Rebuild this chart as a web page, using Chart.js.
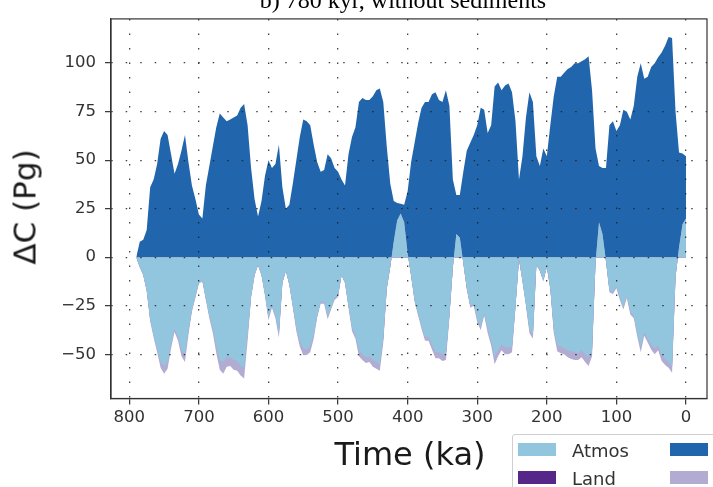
<!DOCTYPE html>
<html>
<head>
<meta charset="utf-8">
<script src="https://cdn.jsdelivr.net/npm/chart.js@4.4.1/dist/chart.umd.min.js"></script>
<style>
html,body{margin:0;padding:0;background:#fff;width:713px;height:487px;overflow:hidden;}
#wrap{position:relative;width:713px;height:487px;overflow:hidden;}
canvas{position:absolute;left:0;top:0;}
.txt{position:absolute;white-space:nowrap;font-family:'DejaVu Sans',sans-serif;color:#1a1a1a;}
#title{font-family:'Liberation Serif',serif;font-size:24px;line-height:24px;left:403px;top:-12px;transform:translateX(-50%);color:#000;}
#ylab{font-size:31px;line-height:31px;left:25px;top:207px;transform:translate(-50%,-50%) rotate(-90deg);}
#xlab{font-size:32px;line-height:32px;left:410px;top:438px;transform:translateX(-50%);}
#legend{position:absolute;left:512px;top:434px;width:270px;height:80px;border:1px solid #cfcfcf;border-radius:3px;background:rgba(255,255,255,0.85);}
.patch{position:absolute;width:38px;height:13px;}
.ltxt{position:absolute;font-family:'DejaVu Sans',sans-serif;font-size:18px;line-height:18px;color:#333;white-space:nowrap;}
</style>
</head>
<body>
<div id="wrap">
<canvas id="c" width="713" height="487"></canvas>
<div id="title" class="txt">b) 780 kyr, without sediments</div>
<div id="ylab" class="txt">ΔC (Pg)</div>
<div id="xlab" class="txt">Time (ka)</div>
<div id="legend"></div>
</div>
<script>
// time (ka before present)
const time = [
790,785,780,775,770,765,760,755,750,745,
740,735,730,725,720,715,710,705,700,695,
690,685,680,675,670,665,660,655,650,645,
640,635,630,625,620,615,610,605,600,595,
590,585,580,575,570,565,560,555,550,545,
540,535,530,525,520,515,510,505,500,495,
490,485,480,475,470,465,460,455,450,445,
440,435,430,425,420,415,410,405,400,395,
390,385,380,375,370,365,360,355,350,345,
340,335,330,325,320,315,310,305,300,295,
290,285,280,275,270,265,260,255,250,245,
240,235,230,225,220,215,210,205,200,195,
190,185,180,175,170,165,160,155,150,145,
140,135,130,125,120,115,110,105,100,95,
90,85,80,75,70,65,60,55,50,45,
40,35,30,25,20,15,10,5,0];

// Atmos change (Pg C)
const atmos = [
0,-5,-9,-17,-32,-40,-47,-54,-56,-54,
-45,-37,-41,-48,-50,-38,-27,-20,-13,-12,
-21,-30,-37,-46,-53,-54,-51.5,-51.5,-53,-53.5,
-56,-57,-40,-20,-9,-4,-9,-19,-31,-25,
-30,-39.5,-13,-7,-14,-25,-36,-43,-47,-47.4,
-46,-40,-30,-23,-23,-30,-26,-21,-19.5,-9.3,
-13,-25,-36,-40,-48,-50,-51.5,-51,-53,-54,
-55,-42,-16,-5,8,19,22.5,18,2,-9.5,
-22,-29,-35.5,-41,-41,-45,-49,-49,-50,-50,
-30,-5,12,10,-3,-16,-25,-24,-32,-36,
-29,-37,-43,-51.6,-48,-45,-46.5,-46.5,-46,-25,
-1,-12,-24,-37,-40,-4,-7,-12,-5,-16,
-37,-45.5,-46,-47,-48,-48.5,-49,-49.5,-48,-50,
-51.5,-48,-3,18,12,-2,-17,-18,-15,-21,
-25.5,-20,-28,-30,-39,-46,-38.5,-42,-45,-47,
-45.5,-50.5,-52.5,-54,-56,-10,5,17,20];

// Land change (Pg C) - not visible in the picture
const land = [
0,0,0,0,0,0,0,0,0,0, 0,0,0,0,0,0,0,0,0,0,
0,0,0,0,0,0,0,0,0,0, 0,0,0,0,0,0,0,0,0,0,
0,0,0,0,0,0,0,0,0,0, 0,0,0,0,0,0,0,0,0,0,
0,0,0,0,0,0,0,0,0,0, 0,0,0,0,0,0,0,0,0,0,
0,0,0,0,0,0,0,0,0,0, 0,0,0,0,0,0,0,0,0,0,
0,0,0,0,0,0,0,0,0,0, 0,0,0,0,0,0,0,0,0,0,
0,0,0,0,0,0,0,0,0,0, 0,0,0,0,0,0,0,0,0,0,
0,0,0,0,0,0,0,0,0,0, 0,0,0,0,0,0,0,0,0];

// Ocean change (Pg C)
const ocean = [
0,8,9,14,36,40,48,61,65,63,
53,43,48,55,63,49,37,30,22,20,
37,47,57,67,74,72,70,71,72,73,
77,79,68,46,30,21,29,42,50,46,
48,58,36,25,27,38,50,62,71,70,
68,58,49,44,45,53,51,46,44,40,
37,53,62,67,80,82,81,81,83,86,
87,80,57,38,29,28,27.5,27,34,49,
59,69,77,80,80,84,85,81,80,86,
78,40,32,32,44,55,59,63,68,77,
76,64,68,88,90,86,88.5,89.5,85,70,
40,52,72,85,80,52,47,56,52,68,
83,93,93,95,97,98,100,100,101,102,
103.5,86,56,47,46,46,68,70,65,68,
76,75,71,78,93,100,92,93,98,100,
103,105.5,109,113.5,113,75,54,53.5,52];

// fourth component (light purple, stacked below Atmos)
const weath = [
0,0,0,-0.5,-1,-1.5,-2,-3,-4,-3.5,
-2,-1.5,-2,-3,-4,-2,-1,-1,-0.5,-0.5,
-1,-1.5,-2,-3.5,-5,-6,-5,-4.5,-5,-5,
-5,-5.5,-3,-1,-0.5,0,-0.5,-1,-1.5,-1,
-1.5,-2,-0.5,0,-0.5,-1,-2,-3,-3.5,-3,
-3,-2,-1,-1,-1,-2,-1,-1,-1,0,
-0.5,-1,-2,-2,-3,-3,-3,-3,-3.5,-3.5,
-3.5,-2,-0.5,0,0,0,0,0,0,0,
-1,-1,-1.5,-2,-2,-2.5,-3,-3,-3.5,-3,
-1.5,0,0,0,0,-0.5,-1,-1,-1.5,-1.5,
-1,-2,-2.5,-3.5,-3,-3,-3.5,-3.5,-3,-1,
0,-0.5,-1,-2,-2,0,0,-0.5,0,-0.5,
-2,-3,-3.5,-3,-3.5,-4,-4,-3.5,-3.5,-4,
-4.5,-3,0,0,0,0,-1,-1,-1,-1,
-1.5,-1,-1.5,-1.5,-2,-3,-2,-2,-2.5,-3,
-2.5,-3,-3,-3,-3.5,-0.5,0,0,0];

const xTicks = [800,700,600,500,400,300,200,100,0];
const yTicks = [-50,-25,0,25,50,75,100];

const seriesNames = ['Atmos','Land','Ocean','Weathering'];
const seriesColors = ['#92c5de','#542788','#2166ac','#b2abd2'];

// stacked boundaries below zero side
const landTop = atmos.map((a,i)=>a+land[i]);
const weathTop = atmos.map((a,i)=>a+land[i]+weath[i]);
const pts = arr => time.map((t,i)=>({x:t,y:arr[i]}));

// legend (HTML)
const lg = document.getElementById('legend');
const legendPos = [[5,8],[5,36],[157,8],[157,36]];
seriesNames.forEach((n,i)=>{
  const p = document.createElement('div');
  p.className='patch';
  p.style.left = legendPos[i][0]+'px';
  p.style.top = legendPos[i][1]+'px';
  p.style.background = seriesColors[i];
  lg.appendChild(p);
  const t = document.createElement('div');
  t.className='ltxt';
  t.textContent = n;
  t.style.left = (legendPos[i][0]+54)+'px';
  t.style.top = (legendPos[i][1]-1)+'px';
  lg.appendChild(t);
});

Chart.defaults.font.family = "'DejaVu Sans', sans-serif";

const frame = {
  id:'frame',
  afterDraw(chart){
    const {ctx, chartArea:a} = chart;
    ctx.save();
    ctx.strokeStyle = '#333';
    ctx.lineWidth = 1.2;
    ctx.strokeRect(a.left, a.top, a.right-a.left, a.bottom-a.top);
    ctx.restore();
  }
};

const minus = v => String(v).replace('-', '\u2212');
const gridOpts = {z:1, color:'rgba(30,30,30,0.85)', lineWidth:1.3, tickLength:6, tickColor:'#333', tickWidth:1.2};
const borderOpts = {z:2, display:true, color:'#333', width:1.2, dash:[1.5,13]};

new Chart(document.getElementById('c'), {
  type:'line',
  data:{datasets:[
    {label:seriesNames[0], data:pts(atmos), backgroundColor:seriesColors[0], fill:'origin', order:0},
    {label:seriesNames[1], data:pts(landTop), backgroundColor:seriesColors[1], fill:'origin', order:2},
    {label:seriesNames[2], data:pts(ocean), backgroundColor:seriesColors[2], fill:'origin', order:3},
    {label:seriesNames[3], data:pts(weathTop), backgroundColor:seriesColors[3], fill:'origin', order:1}
  ]},
  options:{
    responsive:false, animation:false, devicePixelRatio:1,
    elements:{line:{borderWidth:0, borderColor:'rgba(0,0,0,0)', tension:0}, point:{radius:0, hoverRadius:0}},
    plugins:{legend:{display:false}, tooltip:{enabled:false}, title:{display:false}},
    layout:{padding:{top:11.5, right:6, left:0, bottom:0}},
    scales:{
      x:{type:'linear', reverse:true, min:-30.2, max:826.3,
        afterBuildTicks:s=>{s.ticks = xTicks.map(v=>({value:v}));},
        afterFit:s=>{s.height = 88.5;},
        ticks:{color:'#333', font:{size:16.5}, padding:3, maxRotation:0, autoSkip:false, callback:minus},
        grid:gridOpts, border:borderOpts},
      y:{type:'linear', min:-72.8, max:122.8,
        afterBuildTicks:s=>{s.ticks = yTicks.map(v=>({value:v}));},
        afterFit:s=>{s.width = 111;},
        ticks:{color:'#333', font:{size:16.5}, padding:9, autoSkip:false, callback:minus},
        grid:gridOpts, border:borderOpts}
    }
  },
  plugins:[frame]
});
</script>
</body>
</html>
